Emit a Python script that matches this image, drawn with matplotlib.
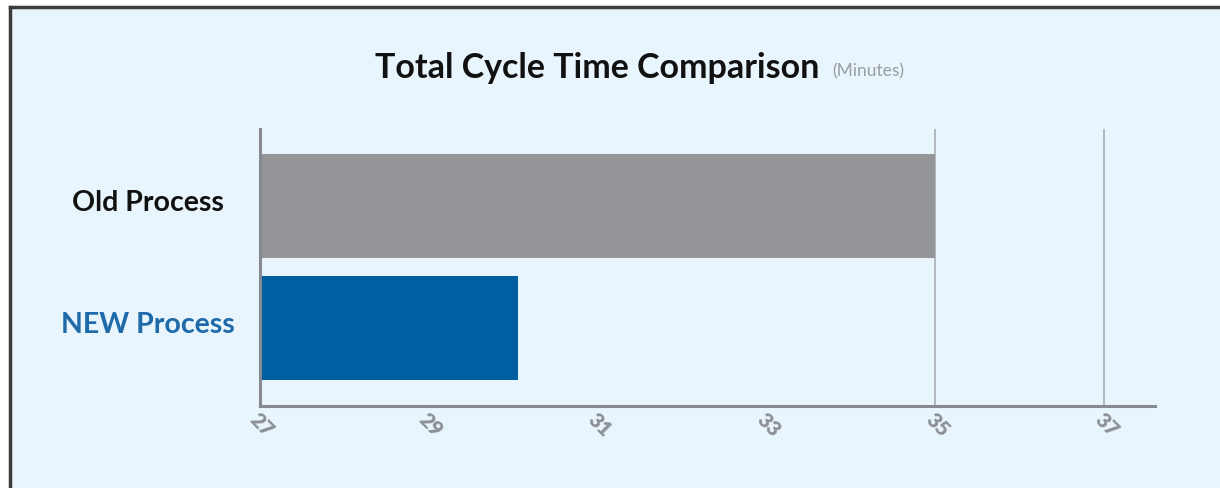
import matplotlib.pyplot as plt
from matplotlib.patches import Rectangle
from matplotlib.lines import Line2D
from matplotlib.transforms import blended_transform_factory, ScaledTranslation

# cycle time data (minutes)
processes = ["NEW Process", "Old Process"]
cycle_times = [30.05, 35]
bar_colors = ["#005FA1", "#939598"]
label_colors = ["#1F6BAA", "#111111"]
x_ticks = [27, 29, 31, 33, 35, 37]
grid_ticks = [35, 37]

plt.rcParams['font.family'] = ['Lato', 'DejaVu Sans']

fig = plt.figure(figsize=(12.2, 4.89), dpi=100)
fig.patch.set_facecolor("white")

# light blue panel, dark frame only on top and left
x0, y1 = 9.5 / 1220, 1 - 8 / 489
fig.patches.append(Rectangle((x0, -0.05), 1.1, y1 + 0.05, transform=fig.transFigure,
                             facecolor="#E8F5FD", edgecolor="none", zorder=-5))
fig.lines.append(Line2D([x0, x0], [-0.05, y1], transform=fig.transFigure,
                        color="#3C3C3C", linewidth=2.5, zorder=-4))
fig.lines.append(Line2D([x0, 1.1], [y1, y1], transform=fig.transFigure,
                        color="#3C3C3C", linewidth=2.5, zorder=-4))

ax = fig.add_axes([260 / 1220, 82 / 489, 895 / 1220, 277 / 489])
ax.set_facecolor("none")

ypos = list(range(len(processes)))
ax.barh(ypos, [v - x_ticks[0] for v in cycle_times], left=x_ticks[0],
        height=0.85, color=bar_colors, zorder=2)

for g in grid_ticks:
    ax.axvline(g, color="#A9AEB3", linewidth=1.2, zorder=1)

ax.set_xlim(27, 37.6)
ax.set_ylim(-0.64, 1.63)

ax.set_xticks(x_ticks)
ax.set_xticklabels([str(t) for t in x_ticks], rotation=-45, ha="left",
                   rotation_mode="anchor", fontsize=15, fontweight="heavy",
                   color="#8C9096")
ax.tick_params(axis="x", length=0, pad=2)

# category names centred in the left margin, a little above bar centres
ax.set_yticks([])
lab_tr = blended_transform_factory(fig.transFigure, ax.transData) + \
    ScaledTranslation(0, 2.5 / 72, fig.dpi_scale_trans)
for y, name, c in zip(ypos, processes, label_colors):
    ax.text(148 / 1220, y, name, transform=lab_tr, ha="center", va="center",
            fontsize=20.5, fontweight="bold", color=c)

for side in ["top", "right"]:
    ax.spines[side].set_visible(False)
for side in ["left", "bottom"]:
    ax.spines[side].set_color("#858A90")
    ax.spines[side].set_linewidth(2.2)

fig.text(375 / 1220, 1 - 68 / 489, "Total Cycle Time Comparison",
         fontsize=24.5, fontweight="bold", color="#111111", va="center")
fig.text(832 / 1220, 1 - 71 / 489, "(Minutes)", fontsize=12.5,
         color="#9A9EA3", va="center")

fig.savefig("out.png", dpi=100, facecolor=fig.get_facecolor())
